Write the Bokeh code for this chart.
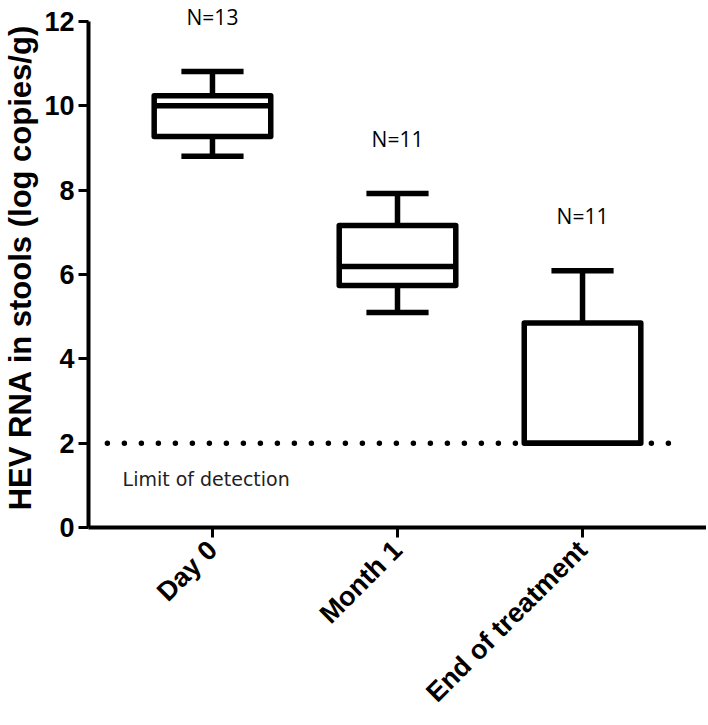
import math
from bokeh.plotting import figure
from bokeh.models import Range1d, FixedTicker, ColumnDataSource
from bokeh.core.properties import value
from bokeh.embed import file_html
from bokeh.resources import INLINE

# ---- data (log copies/g) ----
categories = ["Day 0", "Month 1", "End of treatment"]
n_labels = ["N=13", "N=11", "N=11"]
whisker_low = [8.8, 5.1, 2.0]
q1 = [9.27, 5.74, 2.0]
median = [10.0, 6.19, 2.0]
q3 = [10.24, 7.16, 4.85]
whisker_high = [10.81, 7.92, 6.09]
limit_of_detection = 2.0
y_ticks = [0, 2, 4, 6, 8, 10, 12]

xs = [i + 1 for i in range(len(categories))]
box_half = 0.315
cap_half = 0.168
n_offset = 1.3

src = ColumnDataSource(dict(
    x=xs,
    left=[x - box_half for x in xs],
    right=[x + box_half for x in xs],
    cap_l=[x - cap_half for x in xs],
    cap_r=[x + cap_half for x in xs],
    lo=whisker_low, q1=q1, med=median, q3=q3, hi=whisker_high,
    ny=[h + n_offset for h in whisker_high],
    nlab=n_labels,
))

p = figure(output_backend="svg", toolbar_location=None,
           frame_width=618, frame_height=520,
           x_range=Range1d(0.33, 3.67), y_range=Range1d(0, 12.33),
           min_border_left=79, min_border_right=0, min_border_top=7,
           min_border_bottom=0)
p.outline_line_color = None
p.xgrid.visible = False
p.ygrid.visible = False
p.background_fill_color = "white"

FONT = "Liberation Sans"

# y axis
p.yaxis.ticker = FixedTicker(ticks=y_ticks)
p.yaxis.bounds = (0, 12)
p.yaxis.axis_label = "HEV RNA in stools (log copies/g)"
p.yaxis.axis_label_text_font = FONT
p.yaxis.axis_label_text_font_style = "bold"
p.yaxis.axis_label_text_font_size = "31px"
p.yaxis.axis_label_text_color = "black"
p.yaxis.axis_label_standoff = 3
p.yaxis.major_label_text_font = FONT
p.yaxis.major_label_text_font_style = "bold"
p.yaxis.major_label_text_font_size = "27px"
p.yaxis.major_label_text_color = "black"
p.yaxis.major_label_standoff = 4
p.yaxis.minor_tick_line_color = None
p.yaxis.major_tick_in = 0
p.yaxis.major_tick_out = 10
p.yaxis.major_tick_line_width = 3
p.yaxis.axis_line_width = 4
p.yaxis.axis_line_color = "black"
p.yaxis.major_tick_line_color = "black"

# x axis
p.xaxis.ticker = FixedTicker(ticks=xs)
p.xaxis.major_label_overrides = {x: c for x, c in zip(xs, categories)}
p.xaxis.major_label_orientation = math.pi / 4
p.xaxis.major_label_text_font = FONT
p.xaxis.major_label_text_font_style = "bold"
p.xaxis.major_label_text_font_size = "27px"
p.xaxis.major_label_text_color = "black"
p.xaxis.major_label_standoff = 8
p.xaxis.minor_tick_line_color = None
p.xaxis.major_tick_in = 0
p.xaxis.major_tick_out = 10
p.xaxis.major_tick_line_width = 3
p.xaxis.axis_line_width = 4
p.xaxis.axis_line_color = "black"
p.xaxis.major_tick_line_color = "black"

# limit of detection dotted line
p.line(x=[0.432, 3.52], y=[limit_of_detection, limit_of_detection],
       line_color="black", line_width=5.5, line_dash="0 17", line_cap="round")
p.text(x=[0.514], y=[limit_of_detection - 0.84], text=["Limit of detection"],
       text_font=value("DejaVu Sans"), text_font_size="19px",
       text_color="#222222", text_align="left", text_baseline="middle")

LW = 5.5
# whiskers
p.segment(x0="x", y0="q3", x1="x", y1="hi", source=src, line_color="black", line_width=LW)
p.segment(x0="x", y0="lo", x1="x", y1="q1", source=src, line_color="black", line_width=LW)
p.segment(x0="cap_l", y0="hi", x1="cap_r", y1="hi", source=src, line_color="black", line_width=LW)
p.segment(x0="cap_l", y0="lo", x1="cap_r", y1="lo", source=src, line_color="black", line_width=LW)
# boxes
p.quad(left="left", right="right", bottom="q1", top="q3", source=src,
       fill_color="white", line_color="black", line_width=LW, line_join="round")
p.segment(x0="left", y0="med", x1="right", y1="med", source=src, line_color="black", line_width=LW)

# N labels
p.text(x="x", y="ny", text="nlab", source=src, text_font=value("Open Sans"),
       text_font_size="21px", text_color="black", text_align="center",
       text_baseline="middle")

open("out.html", "w").write(file_html(p, INLINE))
